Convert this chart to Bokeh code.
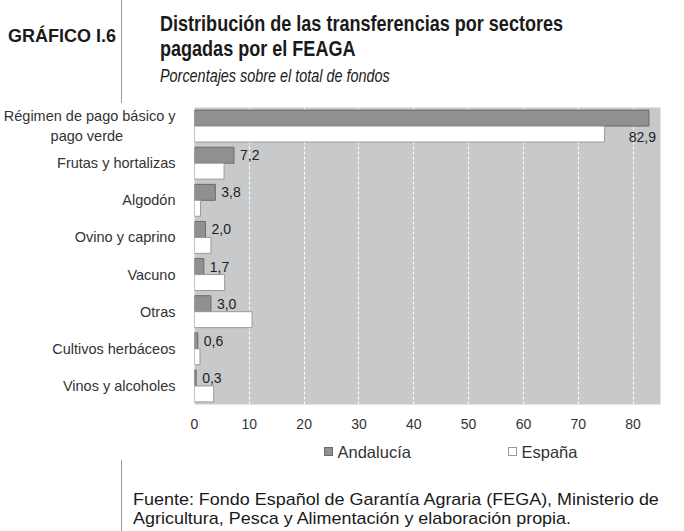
from bokeh.plotting import figure
from bokeh.models import ColumnDataSource, Range1d, FixedTicker, Div
from bokeh.layouts import column
from bokeh.transform import dodge
from bokeh.core.properties import value
from bokeh.embed import file_html
from bokeh.resources import INLINE

categories = ["Régimen de pago básico y\npago verde" + "\u00a0" * 13, "Frutas y hortalizas",
              "Algodón", "Ovino y caprino", "Vacuno", "Otras", "Cultivos herbáceos",
              "Vinos y alcoholes"]
andalucia = [82.9, 7.2, 3.8, 2.0, 1.7, 3.0, 0.6, 0.3]
espana = [74.8, 5.4, 1.1, 3.0, 5.5, 10.5, 1.0, 3.5]
x_ticks = [0, 10, 20, 30, 40, 50, 60, 70, 80]
series_names = ["Andalucía", "España"]
series_fill = ["#8f9092", "#ffffff"]
series_line = ["#6a6b6d", "#9a9a9a"]

title_label = "GRÁFICO I.6"
title_lines = ["Distribución de las transferencias por sectores", "pagadas por el FEAGA"]
subtitle = "Porcentajes sobre el total de fondos"
source_lines = ["Fuente: Fondo Español de Garantía Agraria (FEGA), Ministerio de",
                "Agricultura, Pesca y Alimentación y elaboración propia."]

X_MAX = 85
W = 684
HEAD_H, FIG_H, FOOT_H = 105, 335, 91
BL, BR, BT, BB = 191, 24, 2, 36
n = len(categories)
pos = [n - 1 - i for i in range(n)]  # first category at top

SANS = "'Liberation Sans', Arial, sans-serif"

def abs_div(left, top, css, inner):
    return (f'<div style="position:absolute; left:{left}px; top:{top}px; white-space:nowrap; '
            f'{css}">{inner}</div>')

def squeeze(f):
    return f"transform: scaleX({f}); transform-origin: left top;"

header_html = (
    f'<div style="position:relative; width:{W}px; height:{HEAD_H}px; color:#1a1a1a;">'
    + abs_div(8, 26.8, f"font: bold 18px/18px {SANS};", title_label)
    + abs_div(121, 0, "width:0; height:103px; border-left:1px solid #9a9a9a;", "")
    + abs_div(160, 10.5, f"font: bold 22px/25.5px {SANS}; {squeeze(0.82)}",
              "<br>".join(title_lines))
    + abs_div(160, 67, f"font: italic 18px/18px {SANS}; {squeeze(0.8)}", subtitle)
    + '</div>')
header = Div(text=header_html, width=W, height=HEAD_H, margin=0)

legend_html = ""
for name, fc, lc, sq_x in zip(series_names, series_fill, series_line, [324, 508]):
    legend_html += abs_div(sq_x, 7, f"width:9px; height:9px; background:{fc}; border:1px solid {lc};", "")
    legend_html += abs_div(sq_x + 13.5, 3, f"font: 16.5px/18px {SANS}; color:#333333;", name)

footer_html = (
    f'<div style="position:relative; width:{W}px; height:{FOOT_H}px; color:#1a1a1a;">'
    + legend_html
    + abs_div(121, 20, f"width:0; height:{FOOT_H - 20}px; border-left:1px solid #9a9a9a;", "")
    + abs_div(133, 49.6, f"font: 17px/19.5px {SANS}; {squeeze(1.056)}",
              "<br>".join(source_lines))
    + '</div>')
footer = Div(text=footer_html, width=W, height=FOOT_H, margin=0)

p = figure(width=W, height=FIG_H, output_backend="svg", toolbar_location=None,
           y_range=Range1d(-0.5, n - 0.5), x_range=Range1d(0, X_MAX),
           min_border_left=BL, min_border_right=BR, min_border_top=BT, min_border_bottom=BB,
           margin=0)
p.background_fill_color = "#c8c9ca"
p.border_fill_color = "white"
p.outline_line_color = None

src = ColumnDataSource(dict(pos=pos, a=andalucia, e=espana))
BAR_H = 0.43
OFF = 0.215
p.hbar(y=dodge("pos", OFF), right="a", left=0, height=BAR_H, source=src,
       fill_color=series_fill[0], line_color=series_line[0], line_width=1)
p.hbar(y=dodge("pos", -OFF), right="e", left=0, height=BAR_H, source=src,
       fill_color=series_fill[1], line_color=series_line[1], line_width=1)

def fmt(v):
    return f"{v:.1f}".replace(".", ",")

fits = [a + 7 < X_MAX for a in andalucia]
lab_in = ColumnDataSource(dict(
    pos=[c for c, f in zip(pos, fits) if f],
    x=[a for a, f in zip(andalucia, fits) if f],
    t=[fmt(a) for a, f in zip(andalucia, fits) if f]))
lab_out = ColumnDataSource(dict(
    pos=[c for c, f in zip(pos, fits) if not f],
    x=[a for a, f in zip(andalucia, fits) if not f],
    t=[fmt(a) for a, f in zip(andalucia, fits) if not f]))
LBL_FONT = value("Liberation Sans")
p.text(x="x", y=dodge("pos", OFF), text="t", source=lab_in,
       text_baseline="middle", text_align="left", x_offset=6, text_font=LBL_FONT,
       text_font_size="14px", text_color="#222222")
p.text(x="x", y=dodge("pos", -OFF), text="t", source=lab_out,
       text_baseline="middle", text_align="right", x_offset=7, y_offset=3, text_font=LBL_FONT,
       text_font_size="14px", text_color="#222222")

# axes
p.xaxis.ticker = FixedTicker(ticks=x_ticks)
p.xaxis.axis_line_color = None
p.xaxis.major_tick_line_color = None
p.xaxis.minor_tick_line_color = None
p.xaxis.major_label_standoff = 8
p.xaxis.major_label_text_font = "Liberation Sans"
p.xaxis.major_label_text_font_size = "14px"
p.xaxis.major_label_text_color = "#333333"

p.yaxis.ticker = FixedTicker(ticks=pos)
p.yaxis.major_label_overrides = {k: c for k, c in zip(pos, categories)}
p.yaxis.axis_line_color = None
p.yaxis.major_tick_line_color = None
p.yaxis.minor_tick_line_color = None
p.yaxis.major_label_standoff = 13
p.yaxis.major_label_text_font = "Liberation Sans"
p.yaxis.major_label_text_font_size = "14.5px"
p.yaxis.major_label_text_color = "#333333"

p.ygrid.grid_line_color = None
p.xgrid.ticker = FixedTicker(ticks=x_ticks)
p.xgrid.grid_line_color = "white"
p.xgrid.grid_line_dash = "3 2"
p.xgrid.grid_line_width = 1

layout = column(header, p, footer, spacing=0, margin=0)
open("out.html", "w").write(file_html(layout, INLINE))
